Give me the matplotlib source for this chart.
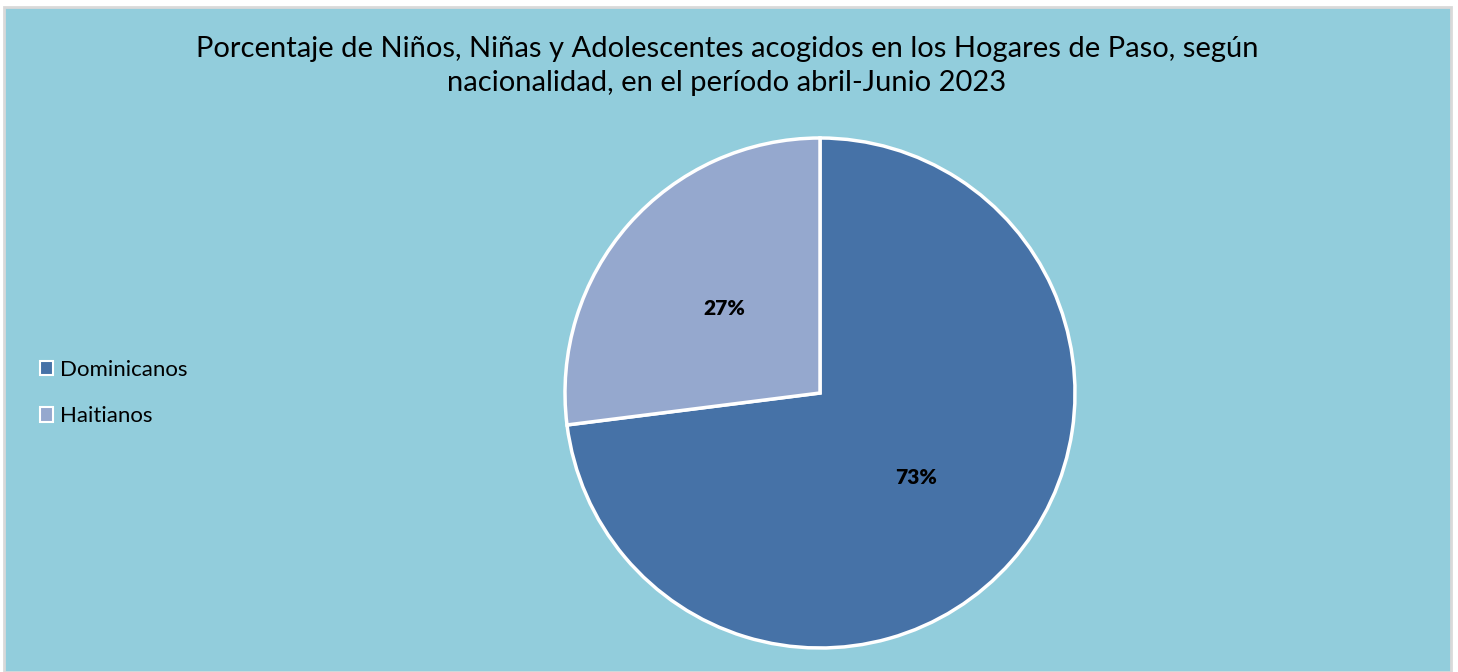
import matplotlib.pyplot as plt
from matplotlib.patches import Patch, Rectangle

plt.rcParams['font.family'] = ['Lato', 'DejaVu Sans']

categorias = ['Dominicanos', 'Haitianos']
porcentajes = [73, 27]
colores = ['#4672A7', '#95A8CE']
titulo = ('Porcentaje de Niños, Niñas y Adolescentes acogidos en los Hogares de Paso, según\n'
          'nacionalidad, en el período abril-Junio 2023')

W, H = 1458, 672
fig = plt.figure(figsize=(W / 100, H / 100), dpi=100)
fig.patch.set_facecolor('white')

# chart area background with gray frame
fig.patches.append(Rectangle((4 / W, 0), (1451 - 4) / W, (H - 7) / H, transform=fig.transFigure,
                             facecolor='#92CDDC', edgecolor='#D9D9D9', linewidth=2, zorder=-5))

cx, cy, r = 820, 393, 255
ax = fig.add_axes([(cx - r) / W, (H - cy - r) / H, 2 * r / W, 2 * r / H])
ax.set_zorder(2)
ax.set_facecolor('none')
wedges, texts, autotexts = ax.pie(porcentajes, colors=colores, startangle=90, counterclock=False,
                                  autopct='%d%%', pctdistance=0.5,
                                  wedgeprops=dict(edgecolor='white', linewidth=2.5))
for t in autotexts:
    t.set_fontsize(15)
    t.set_fontweight('heavy')
ax.set_xlim(-1, 1)
ax.set_ylim(-1, 1)
ax.set_aspect('equal')
ax.axis('off')

fig.text(727 / W, 1 - 66 / H, titulo, ha='center', va='center', fontsize=21, linespacing=1.35)

handles = [Patch(facecolor=c, edgecolor='white', linewidth=1.5) for c in colores]
fig.legend(handles, categorias, loc='center left', bbox_to_anchor=(20 / W, 1 - 393 / H),
           frameon=False, fontsize=16, handlelength=0.6, handleheight=0.6, handletextpad=0.3,
           labelspacing=1.2)

fig.savefig('out.png', dpi=100)
